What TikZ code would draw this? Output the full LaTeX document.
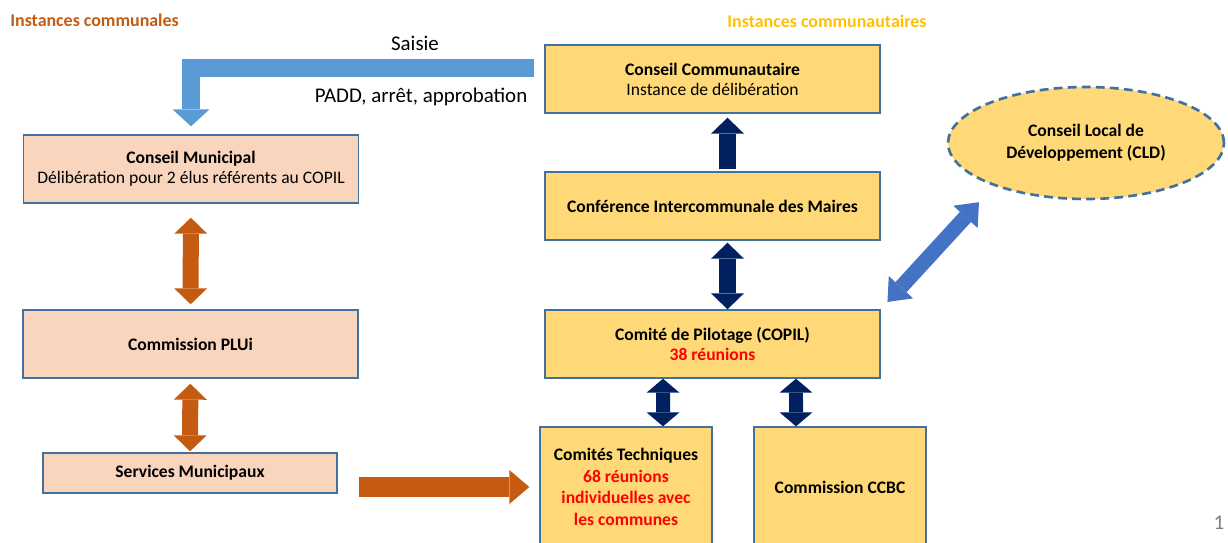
\documentclass[tikz,border=0pt]{standalone}
\usepackage{fontspec}
\setmainfont{Carlito}
\usetikzlibrary{arrows.meta,shapes.geometric}
\definecolor{peach}{HTML}{F8D5BC}
\definecolor{gold}{HTML}{FFD978}
\definecolor{edgeblue}{HTML}{41719C}
\definecolor{rust}{HTML}{C55A11}
\definecolor{navy}{HTML}{002060}
\definecolor{skyblue}{HTML}{5B9BD5}
\definecolor{royal}{HTML}{4472C4}
\definecolor{amber}{HTML}{FFC000}
\definecolor{alertred}{HTML}{FF0000}

\begin{document}
\begin{tikzpicture}[x=0.02cm,y=-0.02cm,
  box/.style={draw=edgeblue,line width=0.8pt,align=center,inner sep=2pt,
    font=\fontsize{10}{11.4}\selectfont},
  combox/.style={box,fill=peach,minimum width=6.7cm,minimum height=1.36cm},
  ctybox/.style={box,fill=gold,minimum width=6.7cm,minimum height=1.36cm},
  techbox/.style={box,fill=gold,minimum width=3.44cm,minimum height=2.4cm,
    font=\fontsize{10}{12.3}\selectfont\bfseries},
  rustarr/.style={draw=rust,line width=0.32cm,
    >={Triangle[width=0.66cm,length=0.32cm,line width=0pt]}},
  navyarr/.style={draw=navy,line width=0.34cm,
    >={Triangle[width=0.66cm,length=0.32cm,line width=0pt]}},
  smallnavy/.style={draw=navy,line width=0.28cm,
    >={Triangle[width=0.66cm,length=0.28cm,line width=0pt]}},
  title/.style={font=\fontsize{10.2}{12}\selectfont\bfseries,inner sep=0pt}]
\useasboundingbox (0,0) rectangle (1228,542);

% communes
\node[title,text=rust,anchor=west] (comtitle) at (10,20) {Instances communales};
\node[combox] (cm) at (191,169)
  {\textbf{Conseil Municipal}\\D\'elib\'eration pour 2 \'elus r\'ef\'erents au COPIL};
\node[combox] (plui) at (190.5,344) {\textbf{Commission PLUi}};
\node[combox,minimum width=5.88cm,minimum height=0.8cm] (sm) at (190,473)
  {\textbf{Services Municipaux}};

% communaute
\node[title,text=amber] (ctytitle) at (827,21) {Instances communautaires};
\node[ctybox] (cc) at (712.5,79)
  {\textbf{Conseil Communautaire}\\Instance de d\'elib\'eration};
\node[ctybox] (cim) at (712.5,206) {\textbf{Conf\'erence Intercommunale des Maires}};
\node[ctybox] (copil) at (712.5,344)
  {\textbf{Comit\'e de Pilotage (COPIL)}\\\textcolor{alertred}{\textbf{38 r\'eunions}}};
\node[techbox] (ct) at (626,487)
  {Comit\'es Techniques\\\textcolor{alertred}{68 r\'eunions}\\
   \textcolor{alertred}{individuelles avec}\\\textcolor{alertred}{les communes}};
\node[techbox] (ccbc) at (840,487) {Commission CCBC};
\node[ellipse,draw=edgeblue,line width=1.5pt,dash pattern=on 5pt off 3pt,fill=gold,
  minimum width=5.52cm,minimum height=2.24cm,align=center,
  font=\fontsize{10}{12.5}\selectfont\bfseries] (cld) at (1086,143)
  {Conseil Local de\\D\'eveloppement (CLD)};

\node[font=\fontsize{11.9}{13}\selectfont] (saisie) at (415,43) {Saisie};
\node[font=\fontsize{11.9}{13}\selectfont] (padd) at (421,97) {PADD, arr\^et, approbation};
\node[text=gray,font=\fontsize{12}{13}\selectfont] (pagenum) at (1219,523) {1};

% fleches
\draw[draw=skyblue,line width=0.36cm,shorten >=0.16cm,
  -{Triangle[width=0.74cm,length=0.34cm,line width=0pt]}]
  ([shift={(-10,-11.5)}]cc.west) -| (cm.north);
\draw[rustarr,<->,shorten <=0.28cm,shorten >=0.1cm] (cm) -- (plui);
\draw[rustarr,<->,shorten <=0.1cm,shorten >=0.02cm] (plui) -- (sm);
\draw[rustarr,line width=0.4cm,shorten <=0.42cm,shorten >=0.2cm,
  -{Triangle[width=0.68cm,length=0.4cm,line width=0pt]}]
  (sm.east |- ct.west) -- (ct.west);
\draw[navyarr,->,shorten <=0.04cm,shorten >=0.08cm]
  ([xshift=0.3cm]cim.north) -- ([xshift=0.3cm]cc.south);
\draw[navyarr,<->,shorten <=0.04cm] ([xshift=0.3cm]cim.south) -- ([xshift=0.3cm]copil.north);
\draw[smallnavy,<->] ([xshift=-0.99cm]copil.south) -- ([xshift=0.74cm]ct.north);
\draw[smallnavy,<->] ([xshift=1.67cm]copil.south) -- ([xshift=-0.88cm]ccbc.north);
\draw[draw=royal,line width=0.3cm,shorten <=0.2cm,shorten >=0.44cm,
  {Triangle[width=0.66cm,length=0.4cm,line width=0pt]}-{Triangle[width=0.66cm,length=0.4cm,line width=0pt]}]
  (copil.north east) -- (cld.205);
\end{tikzpicture}
\end{document}
